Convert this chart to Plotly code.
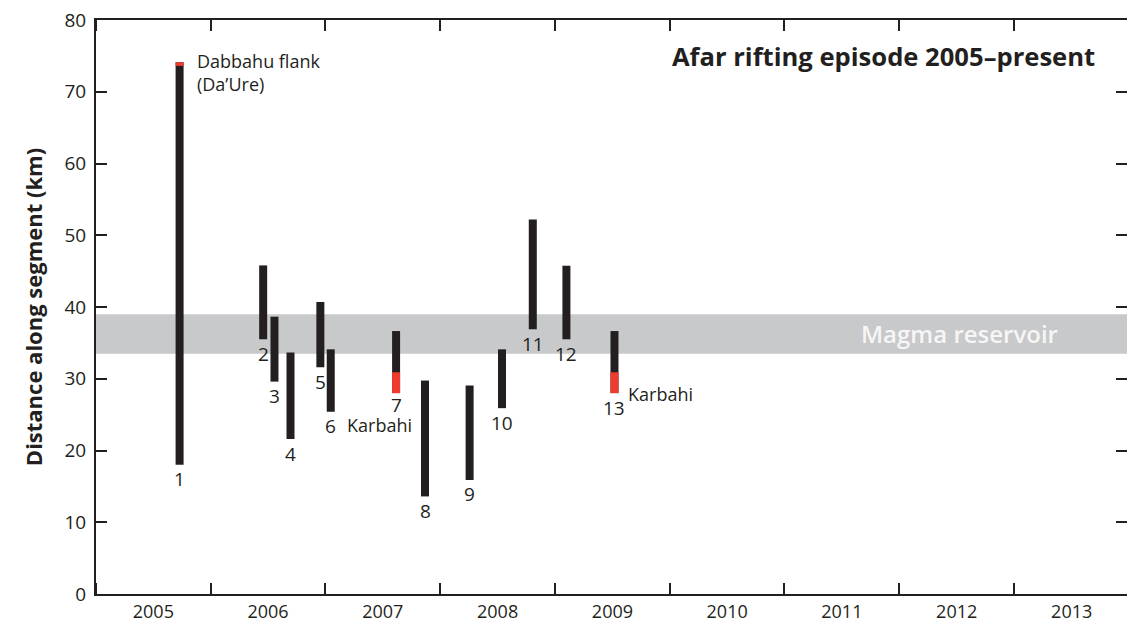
import plotly.graph_objects as go

# Dyke intrusion events of the Dabbahu–Manda Hararo rifting episode
event_ids = [1, 2, 3, 4, 5, 6, 7, 8, 9, 10, 11, 12, 13]
event_dates = ["2005-09-24", "2006-06-17", "2006-07-23", "2006-09-12", "2006-12-16",
               "2007-01-18", "2007-08-14", "2007-11-14", "2008-04-04", "2008-07-16",
               "2008-10-22", "2009-02-06", "2009-07-09"]
# along-segment extent of each dyke (km)
seg_south = [18.0, 35.5, 29.6, 21.6, 31.6, 25.4, 28.0, 13.6, 15.9, 25.9, 36.9, 35.5, 28.0]
seg_north = [74.1, 45.8, 38.65, 33.65, 40.7, 34.1, 36.65, 29.75, 29.05, 34.1, 52.2, 45.75, 36.65]

# fissure eruptions (parts of the dyke that reached the surface)
erupt_ids = [1, 7, 13]
erupt_south = [73.6, 28.0, 28.0]
erupt_north = [74.1, 30.9, 30.9]

# magma reservoir depth band along the segment (km)
reservoir_south = 33.5
reservoir_north = 39.0

INK = "#231f20"
RED = "#ee3b2e"
FONT = "Open Sans, Noto Sans, sans-serif"
BAR_W = 2.2e9  # ms, ~25 days

fig = go.Figure()

fig.add_shape(type="rect", xref="paper", x0=0, x1=1, yref="y",
              y0=reservoir_south, y1=reservoir_north,
              fillcolor="#c8c9cb", line_width=0, layer="below")

fig.add_trace(go.Bar(
    x=event_dates, base=seg_south,
    y=[n - s for n, s in zip(seg_north, seg_south)],
    width=BAR_W, marker=dict(color=INK, line_width=0),
    showlegend=False, hoverinfo="skip"))

erupt_dates = [event_dates[event_ids.index(i)] for i in erupt_ids]
fig.add_trace(go.Bar(
    x=erupt_dates, base=erupt_south,
    y=[n - s for n, s in zip(erupt_north, erupt_south)],
    width=BAR_W, marker=dict(color=RED, line_width=0),
    showlegend=False, hoverinfo="skip"))

# invisible carrier for the right-hand tick axis
fig.add_trace(go.Scatter(x=[event_dates[0]], y=[0], yaxis="y2", mode="markers",
                         marker=dict(opacity=0), showlegend=False, hoverinfo="skip"))

# event numbers below each dyke
for eid, d, s in zip(event_ids, event_dates, seg_south):
    fig.add_annotation(x=d, y=s, text=str(eid), showarrow=False,
                       xanchor="center", yanchor="middle",
                       yshift=-12 if eid == 7 else -14.5,
                       font=dict(family=FONT, size=19, color=INK))

# place names
fig.add_annotation(x=event_dates[0], y=seg_north[0], text="Dabbahu flank<br>(Da’Ure)",
                   showarrow=False, xanchor="left", yanchor="top", align="left",
                   xshift=15, yshift=15, font=dict(family=FONT, size=18, color=INK))
fig.add_annotation(x=event_dates[6], y=seg_south[6], text="Karbahi", showarrow=False,
                   xanchor="center", yanchor="middle", xshift=-17, yshift=-32,
                   font=dict(family=FONT, size=18, color=INK))
fig.add_annotation(x=event_dates[12], y=seg_south[12], text="Karbahi", showarrow=False,
                   xanchor="left", yanchor="middle", xshift=12, yshift=-1,
                   font=dict(family=FONT, size=18, color=INK))

fig.add_annotation(x="2012-07-12", y=(reservoir_south + reservoir_north) / 2,
                   text="Magma reservoir", showarrow=False,
                   xanchor="center", yanchor="middle",
                   font=dict(family=FONT, size=24, color="#f6f6f6", weight=600))

fig.update_layout(
    width=1127, height=624,
    margin=dict(l=96, r=0, t=20, b=30),
    paper_bgcolor="white", plot_bgcolor="white",
    barmode="overlay",
    title=dict(text="<b>Afar rifting episode 2005–present</b>",
               x=0.784, y=0.909, xanchor="center", yanchor="middle",
               font=dict(family=FONT, size=25.6, color=INK)),
    xaxis=dict(type="date", range=["2005-01-01", "2013-12-26"],
               tick0="2005-01-01", dtick="M12", tickformat="%Y",
               ticklabelmode="period", ticks="inside", ticklen=11,
               tickwidth=1.5, tickcolor=INK, showline=True, linecolor=INK,
               linewidth=2, mirror="ticks", showgrid=False, zeroline=False,
               ticklabelstandoff=0, automargin=False,
               tickfont=dict(family=FONT, size=18, color=INK)),
    yaxis=dict(range=[0, 80], tickvals=list(range(0, 81, 10)),
               ticks="inside", ticklen=11, tickwidth=1.5, tickcolor=INK,
               showline=True, linecolor=INK, linewidth=2, showgrid=False,
               zeroline=False, ticklabelstandoff=4, automargin=False,
               tickfont=dict(family=FONT, size=19, color=INK),
               title=dict(text="<b>Distance along segment (km)</b>", standoff=16,
                          font=dict(family=FONT, size=22, color=INK))),
    yaxis2=dict(range=[0, 80], tickvals=list(range(0, 81, 10)), overlaying="y",
                side="right", ticks="inside", ticklen=11, tickwidth=1.5,
                tickcolor=INK, showline=False, showgrid=False, zeroline=False,
                showticklabels=False, automargin=False),
)

fig.write_html("out.html")
